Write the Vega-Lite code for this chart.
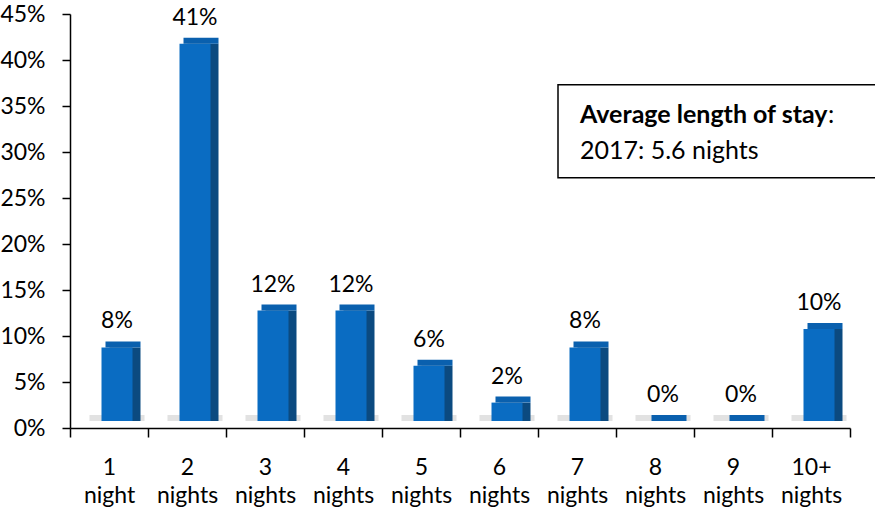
{
  "$schema": "https://vega.github.io/schema/vega-lite/v6.json",
  "autosize": {"type": "none"},
  "padding": {"left": 70, "top": 14, "right": 25, "bottom": 84},
  "width": 780,
  "height": 414,
  "background": "white",
  "config": {
    "view": {"stroke": null},
    "font": "Lato",
    "axis": {"grid": false, "domainColor": "black", "tickColor": "black", "domainWidth": 1.5, "tickWidth": 1.5, "labelColor": "black", "labelFont": "Lato", "labelFontSize": 23}
  },
  "datasets": {
    "stay": [
      {"cat": "1 night", "value": 0.08},
      {"cat": "2 nights", "value": 0.41},
      {"cat": "3 nights", "value": 0.12},
      {"cat": "4 nights", "value": 0.12},
      {"cat": "5 nights", "value": 0.06},
      {"cat": "6 nights", "value": 0.02},
      {"cat": "7 nights", "value": 0.08},
      {"cat": "8 nights", "value": 0.0},
      {"cat": "9 nights", "value": 0.0},
      {"cat": "10+ nights", "value": 0.10}
    ],
    "box": [
      {"x1": "7 nights", "x2": "10+ nights", "y1": 0.373, "y2": 0.272}
    ],
    "boxtext": [
      {"cat": "7 nights", "y": 0.34, "label": "Average length of stay", "weight": "bold"},
      {"cat": "7 nights", "y": 0.301, "label": "2017: 5.6 nights", "weight": "normal"}
    ]
  },
  "layer": [
    {
      "data": {"name": "stay"},
      "mark": {"type": "tick", "color": "#E2E2E2", "opacity": 1, "size": 55, "thickness": 6, "xOffset": 8, "yOffset": -10, "orient": "horizontal"},
      "encoding": {
        "x": {
          "field": "cat", "type": "nominal", "title": null,
          "scale": {"domain": ["1 night", "2 nights", "3 nights", "4 nights", "5 nights", "6 nights", "7 nights", "8 nights", "9 nights", "10+ nights"], "paddingInner": 0, "paddingOuter": 0},
          "axis": {"labelAngle": 0, "tickBand": "extent", "tickSize": 9, "labelPadding": 19, "labelLineHeight": 28, "labelExpr": "datum.value ? split(datum.value, ' ') : ''", "labelBaseline": "top"}
        },
        "y": {
          "datum": 0, "type": "quantitative", "title": null,
          "scale": {"domain": [0, 0.45], "nice": false},
          "axis": {"values": [0, 0.05, 0.1, 0.15, 0.2, 0.25, 0.3, 0.35, 0.4, 0.45], "format": ".0%", "tickSize": 8, "labelPadding": 17}
        }
      }
    },
    {
      "data": {"name": "stay"},
      "mark": {"type": "bar", "color": "#0B4A80", "width": 31, "xOffset": 16, "yOffset": -7},
      "encoding": {
        "x": {"field": "cat", "type": "nominal"},
        "y": {"field": "value", "type": "quantitative"}
      }
    },
    {
      "data": {"name": "stay"},
      "mark": {"type": "bar", "color": "#0A6CC2", "width": 31, "xOffset": 8, "yOffset": -7},
      "encoding": {
        "x": {"field": "cat", "type": "nominal"},
        "y": {"field": "value", "type": "quantitative"}
      }
    },
    {
      "data": {"name": "stay"},
      "mark": {"type": "tick", "color": "#0A60AE", "opacity": 1, "size": 35, "thickness": 6, "xOffset": 14, "yOffset": -10, "orient": "horizontal"},
      "encoding": {
        "x": {"field": "cat", "type": "nominal"},
        "y": {"field": "value", "type": "quantitative"}
      }
    },
    {
      "data": {"name": "stay"},
      "mark": {"type": "text", "fontSize": 23, "dx": 8, "dy": -26, "baseline": "alphabetic", "color": "black"},
      "encoding": {
        "x": {"field": "cat", "type": "nominal"},
        "y": {"field": "value", "type": "quantitative"},
        "text": {"field": "value", "format": ".0%"}
      }
    },
    {
      "data": {"name": "box"},
      "mark": {"type": "rect", "fill": "white", "stroke": "black", "strokeWidth": 1.5, "xOffset": 20, "x2Offset": 40},
      "encoding": {
        "x": {"field": "x1", "type": "nominal", "bandPosition": 0},
        "x2": {"field": "x2", "bandPosition": 1},
        "y": {"field": "y1", "type": "quantitative"},
        "y2": {"field": "y2"}
      }
    },
    {
      "data": {"name": "boxtext"},
      "transform": [{"filter": "datum.weight == 'bold'"}],
      "mark": {"type": "text", "fontSize": 25, "fontWeight": "bold", "align": "left", "baseline": "middle", "xOffset": 42, "color": "black"},
      "encoding": {
        "x": {"field": "cat", "type": "nominal", "bandPosition": 0},
        "y": {"field": "y", "type": "quantitative"},
        "text": {"field": "label"}
      }
    },
    {
      "data": {"name": "boxtext"},
      "transform": [{"filter": "datum.weight == 'bold'"}],
      "mark": {"type": "text", "fontSize": 25, "align": "left", "baseline": "middle", "xOffset": 42, "dx": 248, "color": "black"},
      "encoding": {
        "x": {"field": "cat", "type": "nominal", "bandPosition": 0},
        "y": {"field": "y", "type": "quantitative"},
        "text": {"value": ":"}
      }
    },
    {
      "data": {"name": "boxtext"},
      "transform": [{"filter": "datum.weight == 'normal'"}],
      "mark": {"type": "text", "fontSize": 25, "align": "left", "baseline": "middle", "xOffset": 42, "color": "black"},
      "encoding": {
        "x": {"field": "cat", "type": "nominal", "bandPosition": 0},
        "y": {"field": "y", "type": "quantitative"},
        "text": {"field": "label"}
      }
    }
  ]
}
